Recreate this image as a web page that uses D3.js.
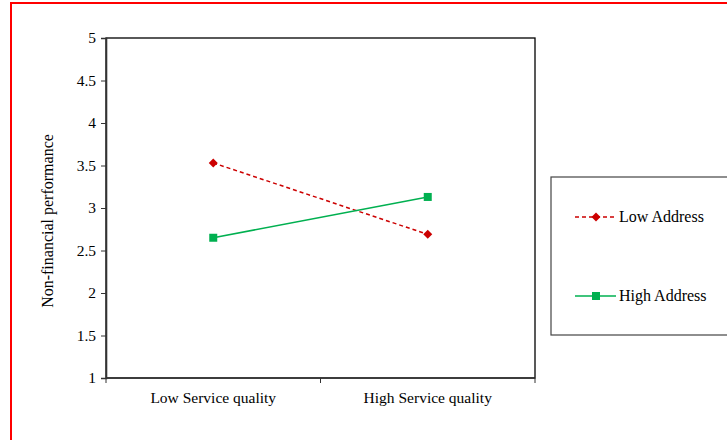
<!DOCTYPE html>
<html>
<head>
<meta charset="utf-8">
<script src="https://cdn.jsdelivr.net/npm/d3@7"></script>
<style>
  body { margin: 0; background: #fff; }
</style>
</head>
<body>
<svg id="chart" width="727" height="440"></svg>
<script>
// chart values
const categories = ['Low Service quality', 'High Service quality'];
const lowAddress = [3.53, 2.69];
const highAddress = [2.65, 3.13];
const yTicks = [1, 1.5, 2, 2.5, 3, 3.5, 4, 4.5, 5];
const seriesNames = ['Low Address', 'High Address'];

const FONT = '"Liberation Serif", "DejaVu Serif", serif';

const svg = d3.select('#chart');

// red frame (only top and left visible)
svg.append('path')
    .attr('d', 'M11,440 V3 H727')
    .attr('fill', 'none')
    .attr('stroke', '#ff0000')
    .attr('stroke-width', 2);

const plot = { left: 106, right: 535, top: 38, bottom: 378 };

const x = d3.scaleBand()
    .domain(categories)
    .range([plot.left, plot.right]);

const y = d3.scaleLinear()
    .domain([1, 5])
    .range([plot.bottom, plot.top]);

// plot box
svg.append('rect')
    .attr('x', plot.left)
    .attr('y', plot.top)
    .attr('width', plot.right - plot.left)
    .attr('height', plot.bottom - plot.top)
    .attr('fill', 'none')
    .attr('stroke', '#000')
    .attr('stroke-width', 1.3);

// y axis
const yAxis = svg.append('g')
    .attr('transform', 'translate(' + plot.left + ',0)')
    .call(d3.axisLeft(y).tickValues(yTicks).tickSize(5).tickPadding(5)
        .tickFormat(d => String(d)));
yAxis.attr('font-family', FONT).attr('font-size', 15.5);
yAxis.select('.domain').attr('stroke', '#333').attr('stroke-width', 1.6);
yAxis.selectAll('.tick line').attr('stroke', '#333');
yAxis.selectAll('text').attr('fill', '#000');

// x axis: ticks at category boundaries like Excel
const xAxis = svg.append('g')
    .attr('transform', 'translate(0,' + plot.bottom + ')')
    .attr('font-family', FONT)
    .attr('font-size', 15.5);
xAxis.append('line')
    .attr('x1', plot.left).attr('x2', plot.right)
    .attr('stroke', '#333').attr('stroke-width', 1.6);
const bounds = categories.map(c => x(c)).concat([x(categories[categories.length - 1]) + x.bandwidth()]);
xAxis.selectAll('line.tk')
    .data(bounds)
    .enter().append('line')
    .attr('class', 'tk')
    .attr('x1', d => d).attr('x2', d => d)
    .attr('y1', 0).attr('y2', 5)
    .attr('stroke', '#333');
xAxis.selectAll('text')
    .data(categories)
    .enter().append('text')
    .attr('x', d => x(d) + x.bandwidth() / 2)
    .attr('y', 25)
    .attr('text-anchor', 'middle')
    .text(d => d);

// y axis title
svg.append('text')
    .attr('transform', 'translate(53,221) rotate(-90)')
    .attr('text-anchor', 'middle')
    .attr('font-family', FONT)
    .attr('font-size', 16)
    .text('Non-financial performance');

const cx = d => x(d) + x.bandwidth() / 2;

const line = d3.line()
    .x((d, i) => cx(categories[i]))
    .y(d => y(d));

const diamondPath = 'M0,-4.5 L4.5,0 L0,4.5 L-4.5,0 Z';

// low address series (red dashed, diamonds)
svg.append('path')
    .datum(lowAddress)
    .attr('d', line)
    .attr('fill', 'none')
    .attr('stroke', '#cc0000')
    .attr('stroke-width', 1.5)
    .attr('stroke-dasharray', '4,3');

svg.selectAll('path.lowpt')
    .data(lowAddress)
    .enter().append('path')
    .attr('class', 'lowpt')
    .attr('d', diamondPath)
    .attr('transform', (d, i) => 'translate(' + cx(categories[i]) + ',' + y(d) + ')')
    .attr('fill', '#cc0000');

// high address series (green solid, squares)
svg.append('path')
    .datum(highAddress)
    .attr('d', line)
    .attr('fill', 'none')
    .attr('stroke', '#00b050')
    .attr('stroke-width', 1.5);

svg.selectAll('rect.highpt')
    .data(highAddress)
    .enter().append('rect')
    .attr('class', 'highpt')
    .attr('x', (d, i) => cx(categories[i]) - 4)
    .attr('y', d => y(d) - 4)
    .attr('width', 8).attr('height', 8)
    .attr('fill', '#00b050');

// legend
const legend = svg.append('g');
legend.append('rect')
    .attr('x', 551).attr('y', 177)
    .attr('width', 190).attr('height', 158)
    .attr('fill', '#fff')
    .attr('stroke', '#444')
    .attr('stroke-width', 1.2);

const legendY = [217, 296];
const items = legend.selectAll('g.item')
    .data(seriesNames)
    .enter().append('g')
    .attr('class', 'item')
    .attr('transform', (d, i) => 'translate(0,' + legendY[i] + ')');

items.append('line')
    .attr('x1', 575).attr('x2', 616)
    .attr('stroke', (d, i) => i === 0 ? '#cc0000' : '#00b050')
    .attr('stroke-width', 1.5)
    .attr('stroke-dasharray', (d, i) => i === 0 ? '4,3' : null);

items.filter((d, i) => i === 0).append('path')
    .attr('d', diamondPath)
    .attr('transform', 'translate(596,0)')
    .attr('fill', '#cc0000');

items.filter((d, i) => i === 1).append('rect')
    .attr('x', 592).attr('y', -4)
    .attr('width', 8).attr('height', 8)
    .attr('fill', '#00b050');

items.append('text')
    .attr('x', 619)
    .attr('y', 5)
    .attr('font-family', FONT)
    .attr('font-size', 16)
    .text(d => d);
</script>
</body>
</html>
